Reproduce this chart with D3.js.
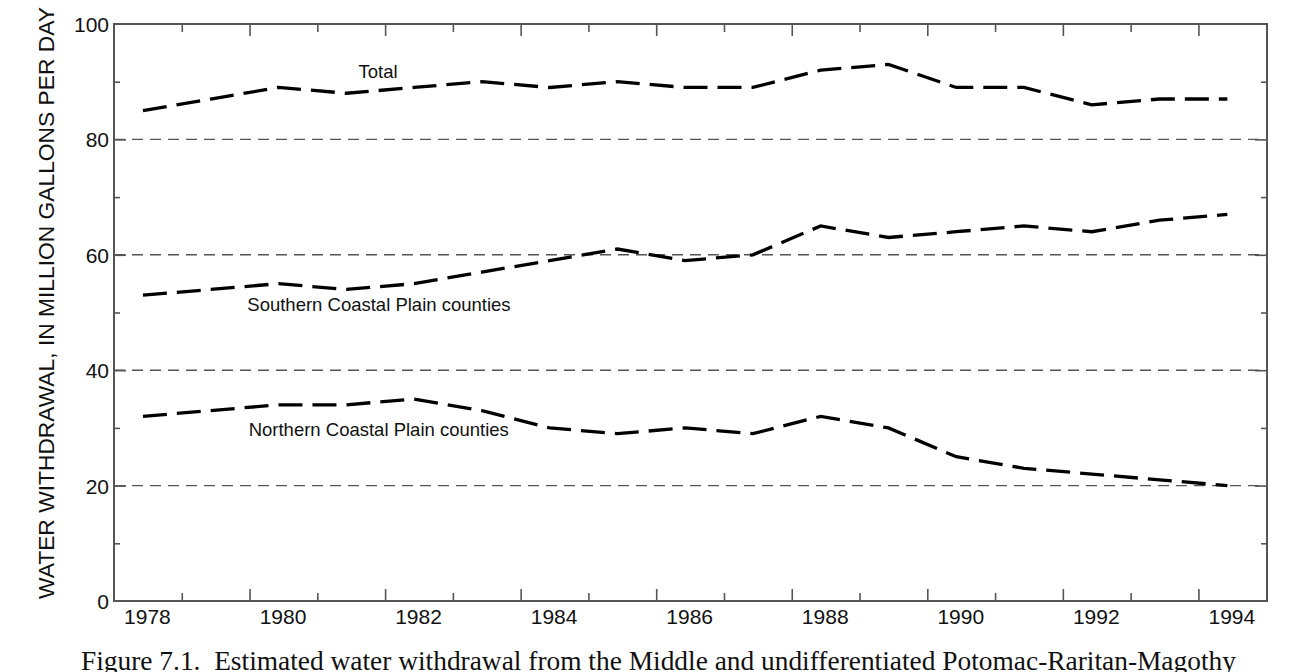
<!DOCTYPE html>
<html>
<head>
<meta charset="utf-8">
<script src="https://cdn.jsdelivr.net/npm/d3@7"></script>
<style>
  html, body { margin: 0; padding: 0; background: #fff; }
  svg { display: block; }
</style>
</head>
<body>
<div id="chart"></div>
<script>
// values
const years = d3.range(1978, 1995);
const totalValues    = [85, 87, 89, 88, 89, 90, 89, 90, 89, 89, 92, 93, 89, 89, 86, 87, 87];
const southernValues = [53, 54, 55, 54, 55, 57, 59, 61, 59, 60, 65, 63, 64, 65, 64, 66, 67];
const northernValues = [32, 33, 34, 34, 35, 33, 30, 29, 30, 29, 32, 30, 25, 23, 22, 21, 20];
const seriesNames = ['Total', 'Southern Coastal Plain counties', 'Northern Coastal Plain counties'];
const yLabelTicks = [0, 20, 40, 60, 80, 100];
const gridValues = [20, 40, 60, 80];
const yTitle = 'WATER WITHDRAWAL, IN MILLION GALLONS PER DAY';
const caption = 'Figure 7.1.  Estimated water withdrawal from the Middle and undifferentiated Potomac-Raritan-Magothy';

const width = 1314;
const height = 672;
const margins = { top: 24, right: 47, bottom: 71, left: 114 };
const innerWidth = width - margins.left - margins.right;
const innerHeight = height - margins.top - margins.bottom;

const font = '"Liberation Sans", Arial, Helvetica, sans-serif';

const svg = d3.select('#chart')
    .append('svg')
    .attr('width', width)
    .attr('height', height)
    .style('font-family', font);

const g = svg.append('g')
    .attr('transform', `translate(${margins.left},${margins.top})`);

// year axis runs a bit past the first and last year
const x = d3.scaleLinear()
    .domain([1977.573, 1994.585])
    .range([0, innerWidth]);

const y = d3.scaleLinear()
    .domain([0, 100])
    .range([innerHeight, 0]);

// tick marks sit between the years
const yearTicks = d3.range(16).map(k => 1978.573 + k);
const majorX = yearTicks.filter((_, i) => i % 2 === 1);
const minorX = yearTicks.filter((_, i) => i % 2 === 0);
const majorY = [20, 40, 60, 80];
const minorY = [10, 30, 50, 70, 90];

const axisColor = '#555';

// dashed grid lines
g.append('g')
    .selectAll('line')
    .data(gridValues)
    .join('line')
    .attr('x1', 0)
    .attr('x2', innerWidth)
    .attr('y1', d => y(d))
    .attr('y2', d => y(d))
    .attr('stroke', axisColor)
    .attr('stroke-width', 1.4)
    .attr('stroke-dasharray', '11,7');

function styleTicks(sel) {
    sel.select('.domain').remove();
    sel.selectAll('line').attr('stroke', axisColor).attr('stroke-width', 1.6);
    sel.selectAll('text').remove();
}

// inward tick marks on all four sides
[[minorX, 8], [majorX, 12]].forEach(([vals, size]) => {
    g.append('g')
        .attr('transform', `translate(0,${innerHeight})`)
        .call(d3.axisBottom(x).tickValues(vals).tickSize(-size))
        .call(styleTicks);
    g.append('g')
        .call(d3.axisTop(x).tickValues(vals).tickSize(-size))
        .call(styleTicks);
});
[[minorY, 6], [majorY, 12]].forEach(([vals, size]) => {
    g.append('g')
        .call(d3.axisLeft(y).tickValues(vals).tickSize(-size))
        .call(styleTicks);
    g.append('g')
        .attr('transform', `translate(${innerWidth},0)`)
        .call(d3.axisRight(y).tickValues(vals).tickSize(-size))
        .call(styleTicks);
});

// frame
g.append('rect')
    .attr('width', innerWidth)
    .attr('height', innerHeight)
    .attr('fill', 'none')
    .attr('stroke', axisColor)
    .attr('stroke-width', 2);

// tick labels
const bottomLabels = g.append('g')
    .attr('transform', `translate(0,${innerHeight})`)
    .call(d3.axisBottom(x)
        .tickValues(years.filter(d => d % 2 === 0))
        .tickFormat(d3.format('d'))
        .tickSize(0)
        .tickPadding(0));
bottomLabels.select('.domain').remove();
bottomLabels.selectAll('text')
    .attr('font-family', font)
    .attr('font-size', 21)
    .attr('fill', '#111')
    .attr('dx', 4)
    .attr('dy', null)
    .attr('y', 23);

const leftLabels = g.append('g')
    .call(d3.axisLeft(y)
        .tickValues(yLabelTicks)
        .tickSize(0)
        .tickPadding(5));
leftLabels.select('.domain').remove();
leftLabels.selectAll('text')
    .attr('font-family', font)
    .attr('font-size', 21)
    .attr('fill', '#111')
    .attr('dy', '0.36em');

// y axis title
svg.append('text')
    .attr('transform', `translate(54,303) rotate(-90)`)
    .attr('text-anchor', 'middle')
    .attr('font-size', 22.8)
    .attr('fill', '#111')
    .text(yTitle);

// series lines
const series = [totalValues, southernValues, northernValues];
const line = d3.line()
    .x((d, i) => x(years[i]))
    .y(d => y(d));

g.append('g')
    .selectAll('path')
    .data(series)
    .join('path')
    .attr('d', line)
    .attr('fill', 'none')
    .attr('stroke', '#000')
    .attr('stroke-width', 3.3)
    .attr('stroke-dasharray', '24,10');

// series labels, placed near the year they sit over
const labelSpots = [
    { year: 1981.47, value: 90.6, anchor: 'middle' },
    { year: 1979.54, value: 50.3, anchor: 'start' },
    { year: 1979.56, value: 28.6, anchor: 'start' }
];
g.append('g')
    .selectAll('text')
    .data(seriesNames)
    .join('text')
    .attr('x', (d, i) => x(labelSpots[i].year))
    .attr('y', (d, i) => y(labelSpots[i].value))
    .attr('text-anchor', (d, i) => labelSpots[i].anchor)
    .attr('font-size', 18.5)
    .attr('fill', '#111')
    .text(d => d);

// figure caption (cut off by the bottom edge in the original)
svg.append('text')
    .attr('x', 81)
    .attr('y', 670)
    .attr('font-family', '"Liberation Serif", "Times New Roman", Times, serif')
    .attr('font-size', 27.4)
    .attr('fill', '#111')
    .attr('xml:space', 'preserve')
    .style('white-space', 'pre')
    .text(caption);
</script>
</body>
</html>
